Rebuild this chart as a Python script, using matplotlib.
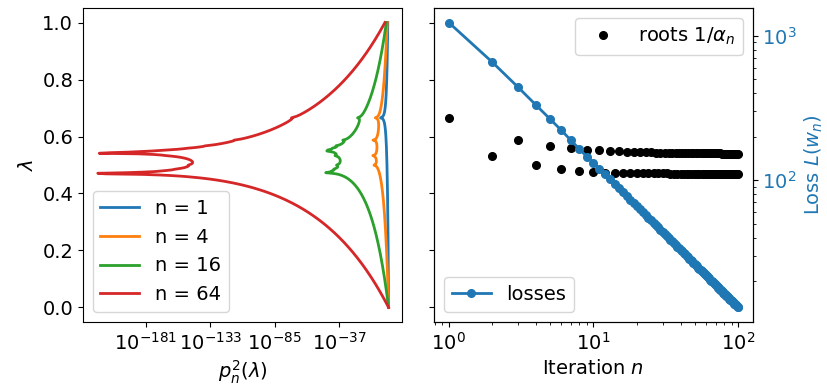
import numpy as np
import matplotlib
matplotlib.use('Agg')
import matplotlib.pyplot as plt
from matplotlib.ticker import FixedLocator, NullLocator, LogFormatterSciNotation

plt.rcParams['font.size'] = 14

# ---------------- data ----------------
iterations = list(range(1, 101))

# roots 1/alpha_n (lambda units), n = 1..100
roots = [
    0.6660, 0.5325, 0.5876, 0.4998, 0.5676, 0.4858, 0.5585, 0.4798, 0.5536, 0.4752,
    0.5515, 0.4728, 0.5494, 0.4725, 0.5480, 0.4720, 0.5469, 0.4716, 0.5460, 0.4713,
    0.5453, 0.4710, 0.5447, 0.4708, 0.5442, 0.4706, 0.5438, 0.4705, 0.5434, 0.4703,
    0.5431, 0.4702, 0.5428, 0.4701, 0.5426, 0.4700, 0.5423, 0.4699, 0.5421, 0.4698,
    0.5420, 0.4698, 0.5418, 0.4697, 0.5417, 0.4697, 0.5415, 0.4696, 0.5414, 0.4696,
    0.5413, 0.4695, 0.5412, 0.4695, 0.5411, 0.4694, 0.5410, 0.4694, 0.5409, 0.4694,
    0.5408, 0.4693, 0.5408, 0.4693, 0.5407, 0.4693, 0.5406, 0.4692, 0.5406, 0.4692,
    0.5405, 0.4692, 0.5404, 0.4692, 0.5404, 0.4692, 0.5403, 0.4691, 0.5403, 0.4691,
    0.5403, 0.4691, 0.5402, 0.4691, 0.5402, 0.4691, 0.5401, 0.4691, 0.5401, 0.4690,
    0.5401, 0.4690, 0.5400, 0.4690, 0.5400, 0.4690, 0.5400, 0.4690, 0.5399, 0.4690,
]

# losses L(w_n), n = 1..100
losses = [
    1230, 654, 441, 331, 265, 221, 188, 164, 145, 131.5,
    119.5, 109.6, 101.2, 93.9, 87.7, 82.2, 77.4, 73.1, 69.2, 65.8,
    62.6, 59.8, 57.2, 54.8, 52.6, 50.6, 48.7, 47.0, 45.3, 43.8,
    42.4, 41.1, 39.8, 38.7, 37.6, 36.5, 35.5, 34.6, 33.7, 32.9,
    32.1, 31.3, 30.6, 29.9, 29.2, 28.6, 28.0, 27.4, 26.8, 26.3,
    25.8, 25.3, 24.8, 24.4, 23.9, 23.5, 23.1, 22.7, 22.3, 21.9,
    21.6, 21.2, 20.9, 20.5, 20.2, 19.9, 19.6, 19.3, 19.1, 18.8,
    18.5, 18.3, 18.0, 17.8, 17.5, 17.3, 17.1, 16.9, 16.6, 16.4,
    16.2, 16.0, 15.8, 15.7, 15.5, 15.3, 15.1, 14.9, 14.8, 14.6,
    14.5, 14.3, 14.1, 14.0, 13.8, 13.7, 13.6, 13.4, 13.3, 13.15,
]

poly_degrees = [1, 4, 16, 64]
lam_grid = np.linspace(0.0, 1.0, 500)
left_xticks = [1e-181, 1e-133, 1e-85, 1e-37]

# ---------------- figure ----------------
fig = plt.figure(figsize=(8.28, 3.89), dpi=100)
ax1 = fig.add_axes([0.1002, 0.1730, 0.3853, 0.8057])
ax2 = fig.add_axes([0.5245, 0.1730, 0.3845, 0.8057], sharey=ax1)

r = np.array(roots)
for d in poly_degrees:
    logp2 = np.sum(2.0 * np.log10(np.abs(1.0 - lam_grid[:, None] / r[None, :d])), axis=1)
    ax1.plot(10.0 ** logp2, lam_grid, label=f'n = {d}', lw=2)

ax1.set_xscale('log')
ax1.set_xlim(1e-228, 1e10)
ax1.xaxis.set_major_locator(FixedLocator(left_xticks))
ax1.xaxis.set_major_formatter(LogFormatterSciNotation())
ax1.xaxis.set_minor_locator(NullLocator())
ax1.set_xlabel(r'$p_n^2(\lambda)$')
ax1.set_ylabel(r'$\lambda$')
ax1.legend(loc='lower left')

ax2.plot(iterations, roots, 'o', color='k', ms=5.5, label=r'roots $1/\alpha_n$')
ax2.set_xscale('log')
ax2.set_xlabel(r'Iteration $n$')
ax2.tick_params(axis='y', labelleft=False)
ax2.legend(loc='upper right')

tw = ax2.twinx()
tw.plot(iterations, losses, 'o-', color='C0', ms=5.5, lw=2, label='losses')
tw.set_yscale('log')
tw.set_ylabel(r'Loss $L(w_n)$', color='C0')
tw.tick_params(axis='y', which='both', labelcolor='C0')
tw.legend(loc='lower left')

fig.savefig('out.png', dpi=100)
